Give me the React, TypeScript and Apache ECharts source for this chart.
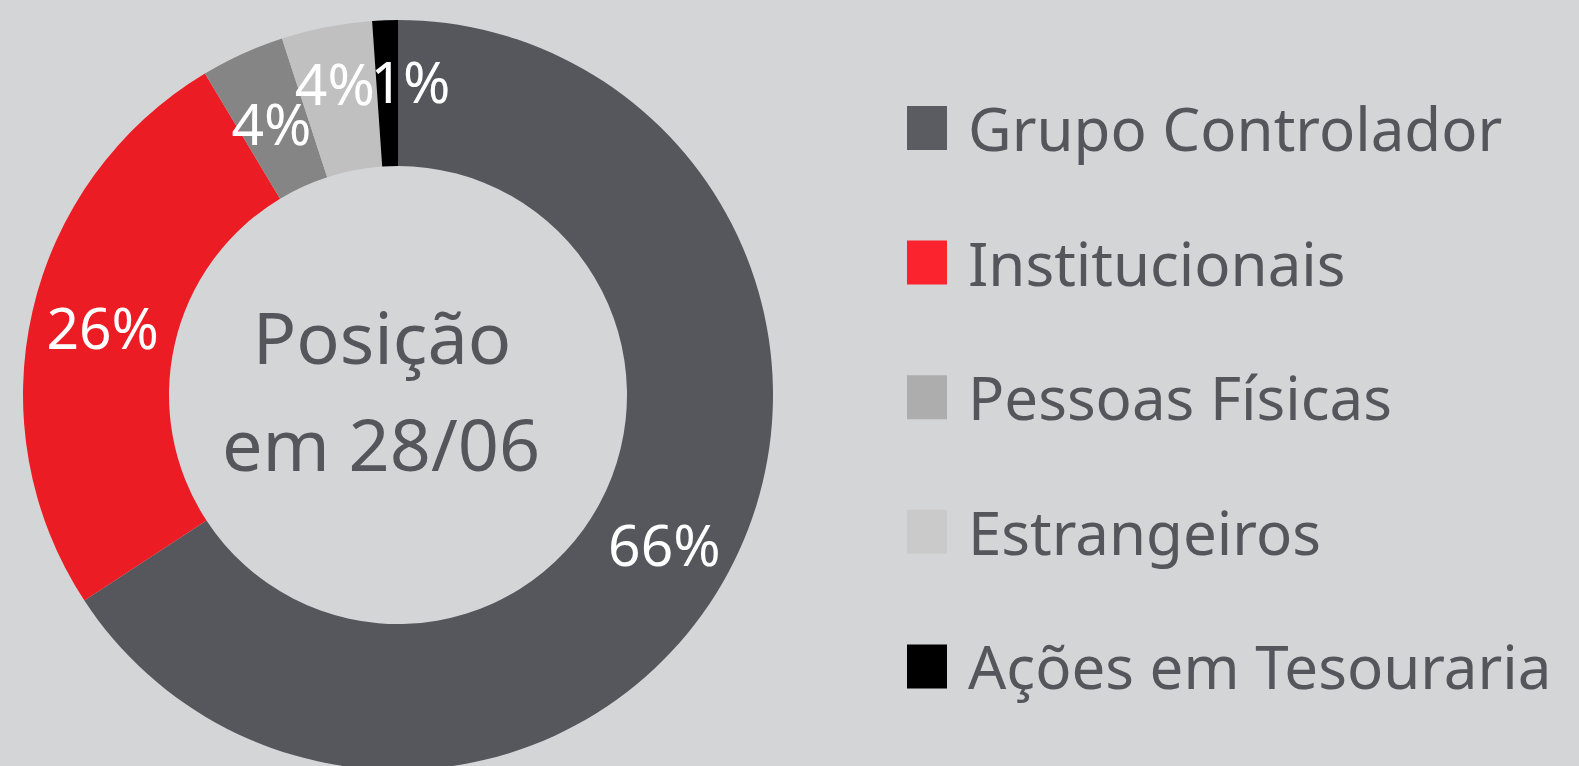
import React, { useEffect, useRef } from "react";
import * as echarts from "echarts";

const categories = ["Grupo Controlador", "Institucionais", "Pessoas Físicas", "Estrangeiros", "Ações em Tesouraria"];
const values = [65.7, 25.6, 3.6, 3.9, 1.1];
const sliceColors = ["#56575c", "#ec1c24", "#858585", "#c0c0c0", "#000000"];
const legendColors = ["#5b5c61", "#fb232d", "#adadad", "#cacaca", "#000000"];
const labelOffsets = [[-2, 4], [2, 0], [0, 6], [-5, -13], [23, -9]];
const centerLines = ["Posição", "em 28/06"];

const FONT = "'Noto Sans', sans-serif";

export default function App() {
  const ref = useRef<HTMLDivElement>(null);
  useEffect(() => {
    if (!ref.current) return;
    const chart = echarts.init(ref.current, undefined, { renderer: "svg" });
    chart.setOption({
      animation: false,
      backgroundColor: "#d4d5d7",
      legend: {
        orient: "vertical",
        left: 907,
        top: 90,
        padding: 0,
        icon: "rect",
        itemWidth: 40,
        itemHeight: 44,
        itemGap: 58.6,
        selectedMode: false,
        textStyle: {
          fontFamily: FONT,
          fontSize: 60,
          color: "#55565b",
          lineHeight: 56,
          padding: [0, 0, 20, 16],
        },
        data: categories.map((name, i) => ({ name, itemStyle: { color: legendColors[i] } })),
      },
      graphic: [
        {
          type: "text",
          x: 382,
          y: 336,
          style: {
            text: centerLines[0],
            fontFamily: FONT,
            fontSize: 72,
            fill: "#55565b",
            align: "center",
            verticalAlign: "middle",
          },
        },
        {
          type: "text",
          x: 381,
          y: 443,
          style: {
            text: centerLines[1],
            fontFamily: FONT,
            fontSize: 72,
            fill: "#55565b",
            align: "center",
            verticalAlign: "middle",
          },
        },
      ],
      series: [
        {
          type: "pie",
          center: [398, 395],
          radius: [229, 375],
          startAngle: 90,
          clockwise: true,
          silent: true,
          avoidLabelOverlap: false,
          labelLayout: { hideOverlap: false },
          label: {
            show: true,
            position: "inside",
            color: "#ffffff",
            fontFamily: FONT,
            fontSize: 57,
            formatter: (p: any) => Math.round(p.percent) + "%",
          },
          labelLine: { show: false },
          data: categories.map((name, i) => ({
            name,
            value: values[i],
            itemStyle: { color: sliceColors[i] },
            label: { offset: labelOffsets[i] },
          })),
        },
      ],
    });
    return () => chart.dispose();
  }, []);
  return <div ref={ref} style={{ position: "fixed", left: 0, top: 0, width: 1579, height: 766 }} />;
}
